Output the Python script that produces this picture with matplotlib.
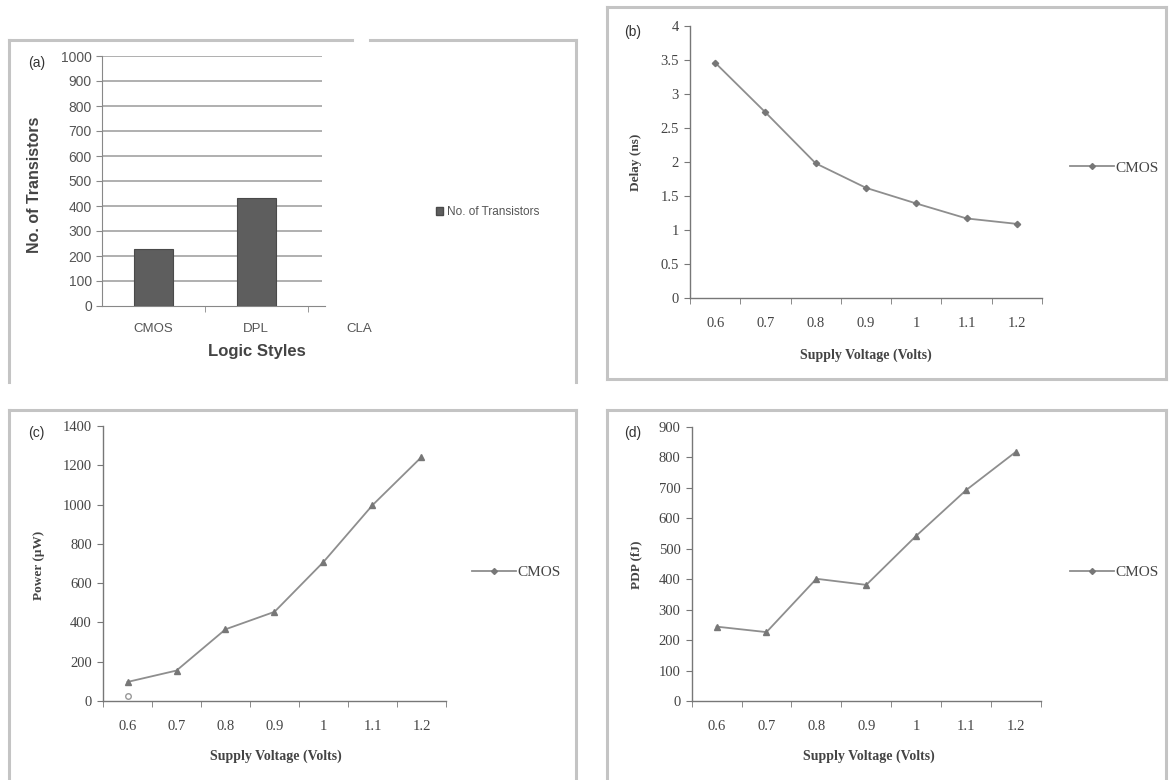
import numpy as np
import matplotlib
matplotlib.use("Agg")
import matplotlib.pyplot as plt
from matplotlib.lines import Line2D
from matplotlib.patches import Patch

# data
styles = ["CMOS", "DPL", "CLA"]
transistors = [228, 430]

voltages = ["0.6", "0.7", "0.8", "0.9", "1", "1.1", "1.2"]
delay = [3.46, 2.73, 1.98, 1.62, 1.39, 1.17, 1.09]
power = [97, 155, 365, 454, 708, 997, 1242]
stray_power = [27]
pdp = [244, 226, 401, 381, 542, 692, 818]

W, H = 1169, 780
fig = plt.figure(figsize=(W / 100, H / 100), dpi=100)
fig.patch.set_facecolor("white")


def box(x0, y0, x1, y1):
    return [x0 / W, 1 - y1 / H, (x1 - x0) / W, (y1 - y0) / H]


def fline(xs, ys, color="#c4c4c4", lw=2.2):
    fig.add_artist(Line2D([x / W for x in xs], [1 - y / H for y in ys],
                          transform=fig.transFigure, color=color, lw=lw))


def ftext(x, y, s, **kw):
    fig.text(x / W, 1 - y / H, s, ha="center", va="center", **kw)


# panel frames
fline([9, 9], [382, 40])
fline([9, 352], [40, 40])
fline([370, 576], [40, 40])
fline([576, 576], [40, 382])

fline([607, 607], [379, 7])
fline([607, 1166], [7, 7])
fline([1166, 1166], [7, 379])
fline([607, 1166], [379, 379])

fline([9, 9], [780, 410])
fline([9, 576], [410, 410])
fline([576, 576], [410, 780])

fline([607, 607], [780, 410])
fline([607, 1166], [410, 410])
fline([1166, 1166], [410, 780])

serif = "Liberation Serif"
sans = "Liberation Sans"

# (a) bar chart
ax = fig.add_axes(box(101.7, 56, 410.7, 306))
xa = np.arange(len(transistors))
ax.bar(xa, transistors, width=0.38, color="#5e5e5e", edgecolor="#4a4a4a",
       lw=0.8, zorder=3)
ax.set_xlim(-0.5, 2.5)
ax.set_ylim(0, 1000)
ax.hlines(np.arange(100, 1001, 100), -0.5, 1.64, color="#9a9a9a", lw=1.1,
          zorder=1)
for s in ["top", "right"]:
    ax.spines[s].set_visible(False)
ax.spines["bottom"].set_bounds(-0.5, 1.67)
ax.spines["bottom"].set_color("#888888")
ax.spines["left"].set_color("#888888")
ax.set_yticks(np.arange(0, 1001, 100))
ax.set_xticks(np.arange(len(styles)))
ax.set_xticklabels(styles)
ax.set_xticks([0.5, 1.5], minor=True)
ax.tick_params(axis="x", which="major", length=0, pad=12, labelsize=9.5,
               labelcolor="#555555")
ax.tick_params(axis="x", which="minor", length=4, color="#888888")
ax.tick_params(axis="y", length=4, color="#888888", labelsize=10,
               labelcolor="#555555", pad=3)
for lab in ax.get_xticklabels() + ax.get_yticklabels():
    lab.set_family(sans)
ax.patch.set_alpha(0)
ftext(35, 185, "No. of Transistors", rotation=90, fontsize=11.5,
      fontweight="bold", family=sans, color="#444444")
ftext(257, 352, "Logic Styles", fontsize=12, fontweight="bold", family=sans,
      color="#444444")
ftext(37, 63, "(a)", fontsize=10, family=sans, color="#333333")
fig.legend(handles=[Patch(facecolor="#5e5e5e", edgecolor="#4a4a4a",
                          label="No. of Transistors")],
           loc="center left", bbox_to_anchor=(430 / W, 1 - 212 / H),
           frameon=False, handlelength=0.6, handleheight=0.6,
           handletextpad=0.3, borderpad=0,
           prop={"family": sans, "size": 8.5}, labelcolor="#555555")


def line_panel(rect, values, ymax, ystep, marker, ms, ylabel, tag, tag_xy,
               ylab_xy, xlab_xy, leg_xy, fmt):
    a = fig.add_axes(rect)
    x = np.arange(len(voltages))
    a.plot(x, values, color="#8e8e8e", lw=1.3, marker=marker, ms=ms,
           mfc="#777777", mec="#777777", zorder=3, clip_on=False)
    a.set_xlim(-0.5, 6.5)
    a.set_ylim(0, ymax)
    for s in ["top", "right"]:
        a.spines[s].set_visible(False)
    for s in ["bottom", "left"]:
        a.spines[s].set_color("#777777")
        a.spines[s].set_linewidth(1.0)
    yt = np.arange(0, ymax + ystep / 2, ystep)
    a.set_yticks(yt)
    a.set_yticklabels([fmt(v) for v in yt])
    a.set_xticks(x)
    a.set_xticklabels(voltages)
    a.set_xticks(np.arange(-0.5, 7, 1), minor=True)
    a.tick_params(axis="x", which="major", length=0, pad=14, labelsize=10.5,
                  labelcolor="#444444")
    a.tick_params(axis="x", which="minor", length=4, color="#777777")
    a.tick_params(axis="y", length=4, color="#777777", labelsize=10.5,
                  labelcolor="#444444", pad=4)
    for lab in a.get_xticklabels() + a.get_yticklabels():
        lab.set_family(serif)
    a.patch.set_alpha(0)
    ftext(*ylab_xy, ylabel, rotation=90, fontsize=9.5, fontweight="bold",
          family=serif, color="#444444")
    ftext(*xlab_xy, "Supply Voltage (Volts)", fontsize=10, fontweight="bold",
          family=serif, color="#444444")
    ftext(*tag_xy, tag, fontsize=10, family=sans, color="#333333")
    fig.legend(handles=[Line2D([], [], color="#8e8e8e", lw=1.3, marker="D",
                               ms=3, mfc="#777777", mec="#777777",
                               label="CMOS")],
               loc="center left", bbox_to_anchor=(leg_xy[0] / W, 1 - leg_xy[1] / H),
               frameon=False, handlelength=2.9, handletextpad=0.1, borderpad=0,
               prop={"family": serif, "size": 11}, labelcolor="#444444")
    return a


line_panel(box(690, 26, 1042, 298), delay, 4, 0.5, "D", 3.2, "Delay (ns)",
           "(b)", (633, 32), (636, 162), (866, 355), (1062, 168),
           lambda v: f"{v:g}")
axc = line_panel(box(103, 426, 446, 701), power, 1400, 200, "^", 5,
                 "Power (\u00b5W)", "(c)", (36, 433), (39, 565), (276, 756),
                 (464, 572), lambda v: f"{v:g}")
axc.plot([0], stray_power, ls="none", marker="o", ms=4, mfc="none",
         mec="#999999", clip_on=False)
line_panel(box(691.6, 426.7, 1041, 701), pdp, 900, 100, "^", 5, "PDP (fJ)",
           "(d)", (633, 433), (636, 565), (869, 756), (1062, 572),
           lambda v: f"{v:g}")

fig.savefig("out.png", dpi=100)
